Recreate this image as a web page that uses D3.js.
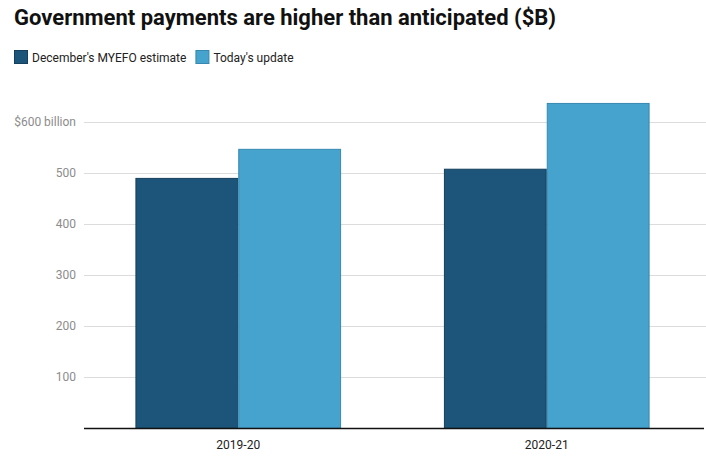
<!DOCTYPE html>
<html><head><meta charset="utf-8">
<script src="https://cdn.jsdelivr.net/npm/d3@7"></script>
<style>
body{margin:0;background:#fff;}
text{font-family:Roboto,"Noto Sans",sans-serif;}
</style></head>
<body><svg id="c" width="706" height="460"></svg>
<script>
const categories = ["2019-20","2020-21"];
const seriesNames = ["December's MYEFO estimate","Today's update"];
const myefo = [490, 508];
const update = [547, 637];
const yTicks = [100,200,300,400,500,600];
const yTickLabels = ["100","200","300","400","500","$600 billion"];
const colors = ["#1d5479","#45a3ce"];
const strokes = ["#153f5c","#3688b0"];

const svg = d3.select("#c");
const x0 = d3.scaleBand().domain(categories).range([84,701]).paddingInner(1/3).paddingOuter(1/6);
const x1 = d3.scaleBand().domain(seriesNames).range([0,x0.bandwidth()]);
const y = d3.scaleLinear().domain([0,650]).range([428.3,428.3-650*0.51]);

svg.append("text").attr("x",14).attr("y",24.5).attr("font-size",22).attr("font-weight",700)
  .attr("fill","#111").text("Government payments are higher than anticipated ($B)");

// legend
let lx=14;
const lg = svg.append("g");
seriesNames.forEach((s,i)=>{
  const g=lg.append("g").attr("transform",`translate(${lx},50)`);
  g.append("rect").attr("x",0.5).attr("y",0.5).attr("width",13).attr("height",13).attr("fill",colors[i]).attr("stroke",strokes[i]);
  const t=g.append("text").attr("x",18).attr("y",11.5).attr("font-size",12).attr("fill","#222").text(s);
  lx += 18 + t.node().getComputedTextLength() + 9;
});

// grid
const grid = svg.append("g");
grid.selectAll("line").data(yTicks).join("line")
  .attr("x1",84).attr("x2",706).attr("y1",d=>Math.round(y(d))+0.5).attr("y2",d=>Math.round(y(d))+0.5)
  .attr("stroke","#dcdcdc").attr("stroke-width",1);
grid.selectAll("text").data(yTicks).join("text")
  .attr("x",76).attr("y",d=>y(d)+4).attr("text-anchor","end").attr("font-size",12).attr("fill","#8c8c8c")
  .text((d,i)=>yTickLabels[i]);

// bars
const gs = svg.append("g").selectAll("g").data(categories).join("g")
  .attr("transform",d=>`translate(${x0(d)},0)`);
gs.selectAll("rect").data((d,i)=>[myefo[i],update[i]].map((v,j)=>({v,j})))
  .join("rect")
  .attr("x",d=>x1(seriesNames[d.j])+0.5).attr("width",x1.bandwidth()-1)
  .attr("y",d=>y(d.v)).attr("height",d=>y(0)-y(d.v))
  .attr("fill",d=>colors[d.j]).attr("stroke",d=>strokes[d.j]).attr("stroke-width",1);

// baseline
svg.append("line").attr("x1",84).attr("x2",704).attr("y1",Math.round(y(0))+0.5).attr("y2",Math.round(y(0))+0.5)
  .attr("stroke","#111").attr("stroke-width",1.3);

// x labels
svg.append("g").selectAll("text").data(categories).join("text")
  .attr("x",d=>x0(d)+x0.bandwidth()/2).attr("y",449).attr("text-anchor","middle")
  .attr("font-size",12).attr("fill","#222").text(d=>d);
</script></body></html>
